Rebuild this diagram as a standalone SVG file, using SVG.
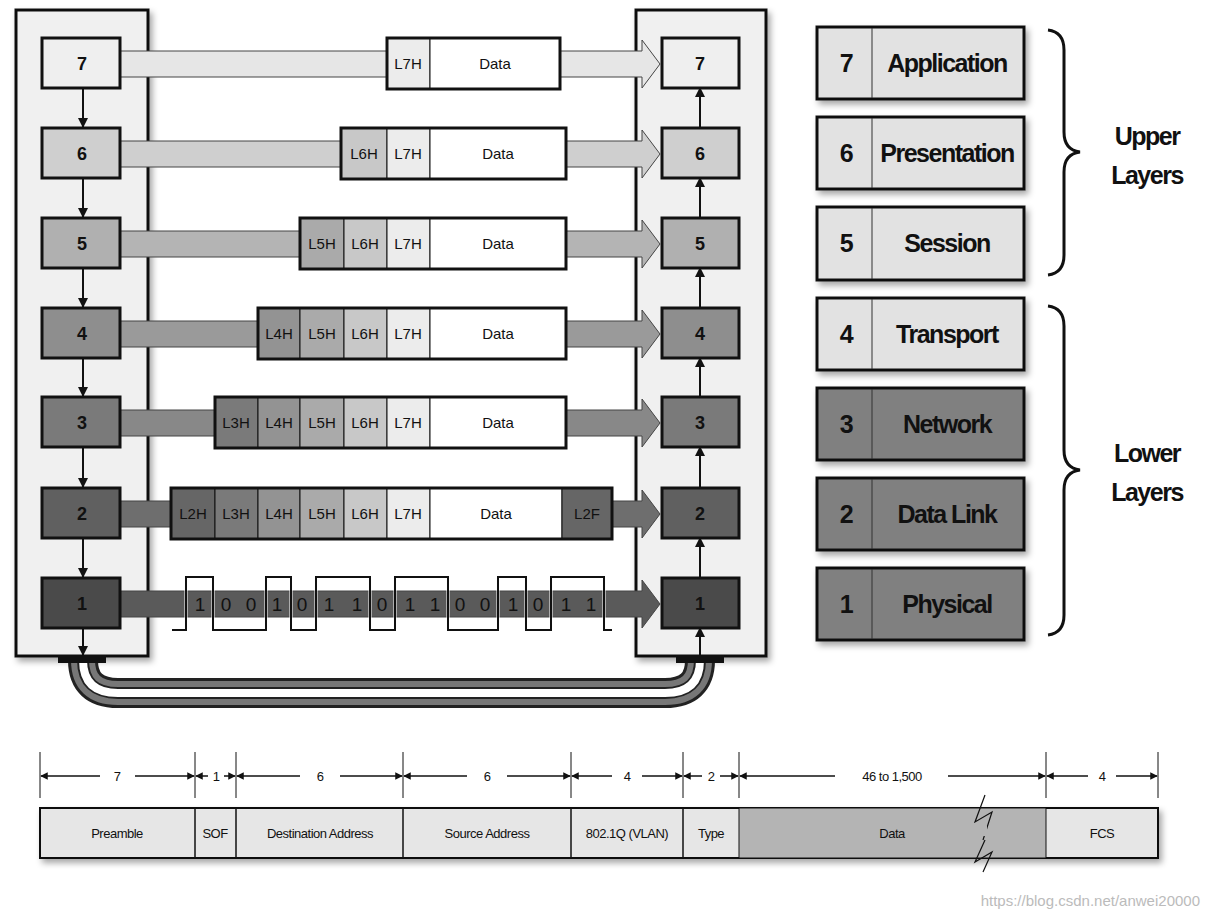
<svg xmlns="http://www.w3.org/2000/svg" width="1210" height="916" viewBox="0 0 1210 916">
<defs>
<style>
.t{font-family:"Liberation Sans",Arial,sans-serif;fill:#111}
.b{font-weight:bold;font-size:18px;text-anchor:middle}
.h{font-size:15px;text-anchor:middle}
.lg{font-weight:bold;font-size:25px;letter-spacing:-1.5px}
.f{font-size:13px;text-anchor:middle;letter-spacing:-0.5px}
.st{stroke:#111;stroke-width:3}
.box{stroke:#111;stroke-width:3}
</style>
<marker id="ad" viewBox="0 0 10 10" refX="9" refY="5" markerWidth="5" markerHeight="6" orient="auto"><path d="M0,0 L10,5 L0,10z" fill="#111"/></marker>
<filter id="sh" x="-5%" y="-5%" width="115%" height="130%"><feDropShadow dx="3" dy="4" stdDeviation="3" flood-color="#000" flood-opacity="0.35"/></filter>
</defs>
<rect width="1210" height="916" fill="#fff"/>
<!-- stacks -->
<g id="left-stack"><rect x="16" y="10" width="132" height="646" fill="#f0f0f0" class="st" filter="url(#sh)"/></g>
<g id="right-stack"><rect x="636" y="10" width="130" height="646" fill="#f0f0f0" class="st" filter="url(#sh)"/></g>
<!-- cable -->
<g id="cable">
<path d="M83 660 Q83 693 118 693 L665 693 Q700 693 700 660" fill="none" stroke="#222" stroke-width="30"/>
<path d="M83 660 Q83 693 118 693 L665 693 Q700 693 700 660" fill="none" stroke="#777" stroke-width="24"/>
<path d="M83 660 Q83 693 118 693 L665 693 Q700 693 700 660" fill="none" stroke="#222" stroke-width="12"/>
<path d="M83 660 Q83 693 118 693 L665 693 Q700 693 700 660" fill="none" stroke="#fff" stroke-width="8"/>
<rect x="58" y="655" width="48" height="8" fill="#111"/>
<rect x="676" y="655" width="48" height="8" fill="#111"/>
</g>
<!-- band arrows -->
<g id="connectors">
<g stroke="#444" stroke-width="1">
<path d="M120 51 H642 V40 L660 64 L642 88 V77 H120z" fill="#e6e6e6"/>
<path d="M120 141 H642 V130 L660 154 L642 178 V167 H120z" fill="#cfcfcf"/>
<path d="M120 231 H642 V220 L660 244 L642 268 V257 H120z" fill="#b4b4b4"/>
<path d="M120 321 H642 V310 L660 334 L642 358 V347 H120z" fill="#9a9a9a"/>
<path d="M120 410 H642 V399 L660 423 L642 447 V436 H120z" fill="#888"/>
<path d="M120 501 H642 V490 L660 514 L642 538 V527 H120z" fill="#6e6e6e"/>
<path d="M120 591 H642 V580 L660 604 L642 628 V617 H120z" fill="#5a5a5a"/>
</g>
<g stroke="#111" stroke-width="2" marker-end="url(#ad)">
<line x1="83" y1="88" x2="83" y2="127"/><line x1="83" y1="178" x2="83" y2="217"/><line x1="83" y1="268" x2="83" y2="307"/><line x1="83" y1="358" x2="83" y2="396"/><line x1="83" y1="447" x2="83" y2="487"/><line x1="83" y1="538" x2="83" y2="577"/><line x1="83" y1="628" x2="83" y2="655"/>
<line x1="700" y1="127" x2="700" y2="88"/><line x1="700" y1="217" x2="700" y2="178"/><line x1="700" y1="307" x2="700" y2="268"/><line x1="700" y1="396" x2="700" y2="358"/><line x1="700" y1="487" x2="700" y2="447"/><line x1="700" y1="577" x2="700" y2="538"/><line x1="700" y1="655" x2="700" y2="628"/>
</g>
</g>
<!-- layer boxes -->
<g id="layers-left" class="t">
<g id="L7"><rect x="42" y="38" width="78" height="50" fill="#efefef" class="box"/><text x="82" y="70" class="t b">7</text></g>
<g id="L6"><rect x="42" y="128" width="78" height="50" fill="#cfcfcf" class="box"/><text x="82" y="160" class="t b">6</text></g>
<g id="L5"><rect x="42" y="218" width="78" height="50" fill="#b0b0b0" class="box"/><text x="82" y="250" class="t b">5</text></g>
<g id="L4"><rect x="42" y="308" width="78" height="50" fill="#8e8e8e" class="box"/><text x="82" y="340" class="t b">4</text></g>
<g id="L3"><rect x="42" y="397" width="78" height="50" fill="#7a7a7a" class="box"/><text x="82" y="429" class="t b">3</text></g>
<g id="L2"><rect x="42" y="488" width="78" height="50" fill="#606060" class="box"/><text x="82" y="520" class="t b">2</text></g>
<g id="L1"><rect x="42" y="578" width="78" height="50" fill="#4a4a4a" class="box"/><text x="82" y="610" class="t b">1</text></g>
</g>
<g id="layers-right">
<g id="R7"><rect x="662" y="38" width="77" height="50" fill="#efefef" class="box"/><text x="700" y="70" class="t b">7</text></g>
<g id="R6"><rect x="662" y="128" width="77" height="50" fill="#cfcfcf" class="box"/><text x="700" y="160" class="t b">6</text></g>
<g id="R5"><rect x="662" y="218" width="77" height="50" fill="#b0b0b0" class="box"/><text x="700" y="250" class="t b">5</text></g>
<g id="R4"><rect x="662" y="308" width="77" height="50" fill="#8e8e8e" class="box"/><text x="700" y="340" class="t b">4</text></g>
<g id="R3"><rect x="662" y="397" width="77" height="50" fill="#7a7a7a" class="box"/><text x="700" y="429" class="t b">3</text></g>
<g id="R2"><rect x="662" y="488" width="77" height="50" fill="#606060" class="box"/><text x="700" y="520" class="t b">2</text></g>
<g id="R1"><rect x="662" y="578" width="77" height="50" fill="#4a4a4a" class="box"/><text x="700" y="610" class="t b">1</text></g>
</g>
<!-- packets -->
<g id="packets" stroke="#111" stroke-width="1">
<g id="p7"><rect x="387" y="38" width="43" height="51" fill="#ececec"/><rect x="430" y="38" width="130" height="51" fill="#fff"/><rect x="387" y="38" width="173" height="51" fill="none" stroke-width="3"/></g>
<g id="p6"><rect x="341" y="128" width="46" height="51" fill="#c8c8c8"/><rect x="387" y="128" width="43" height="51" fill="#ececec"/><rect x="430" y="128" width="136" height="51" fill="#fff"/><rect x="341" y="128" width="225" height="51" fill="none" stroke-width="3"/></g>
<g id="p5"><rect x="300" y="218" width="44" height="51" fill="#aaa"/><rect x="344" y="218" width="43" height="51" fill="#c8c8c8"/><rect x="387" y="218" width="43" height="51" fill="#ececec"/><rect x="430" y="218" width="136" height="51" fill="#fff"/><rect x="300" y="218" width="266" height="51" fill="none" stroke-width="3"/></g>
<g id="p4"><rect x="258" y="308" width="42" height="51" fill="#939393"/><rect x="300" y="308" width="44" height="51" fill="#aaa"/><rect x="344" y="308" width="43" height="51" fill="#c8c8c8"/><rect x="387" y="308" width="43" height="51" fill="#ececec"/><rect x="430" y="308" width="136" height="51" fill="#fff"/><rect x="258" y="308" width="308" height="51" fill="none" stroke-width="3"/></g>
<g id="p3"><rect x="215" y="397" width="43" height="51" fill="#7a7a7a"/><rect x="258" y="397" width="42" height="51" fill="#939393"/><rect x="300" y="397" width="44" height="51" fill="#aaa"/><rect x="344" y="397" width="43" height="51" fill="#c8c8c8"/><rect x="387" y="397" width="43" height="51" fill="#ececec"/><rect x="430" y="397" width="136" height="51" fill="#fff"/><rect x="215" y="397" width="351" height="51" fill="none" stroke-width="3"/></g>
<g id="p2"><rect x="171" y="488" width="44" height="51" fill="#666"/><rect x="215" y="488" width="43" height="51" fill="#7a7a7a"/><rect x="258" y="488" width="42" height="51" fill="#939393"/><rect x="300" y="488" width="44" height="51" fill="#aaa"/><rect x="344" y="488" width="43" height="51" fill="#c8c8c8"/><rect x="387" y="488" width="43" height="51" fill="#ececec"/><rect x="430" y="488" width="132" height="51" fill="#fff"/><rect x="562" y="488" width="50" height="51" fill="#666"/><rect x="171" y="488" width="441" height="51" fill="none" stroke-width="3"/></g>
</g>
<g id="packet-labels" class="t h">
<text x="408" y="69">L7H</text><text x="495" y="69">Data</text>
<text x="364" y="159">L6H</text><text x="408" y="159">L7H</text><text x="498" y="159">Data</text>
<text x="322" y="249">L5H</text><text x="365" y="249">L6H</text><text x="408" y="249">L7H</text><text x="498" y="249">Data</text>
<text x="279" y="339">L4H</text><text x="322" y="339">L5H</text><text x="365" y="339">L6H</text><text x="408" y="339">L7H</text><text x="498" y="339">Data</text>
<text x="236" y="428">L3H</text><text x="279" y="428">L4H</text><text x="322" y="428">L5H</text><text x="365" y="428">L6H</text><text x="408" y="428">L7H</text><text x="498" y="428">Data</text>
<text x="193" y="519">L2H</text><text x="236" y="519">L3H</text><text x="279" y="519">L4H</text><text x="322" y="519">L5H</text><text x="365" y="519">L6H</text><text x="408" y="519">L7H</text><text x="496" y="519">Data</text><text x="587" y="519">L2F</text>
</g>
<!-- physical bits -->
<g id="bits">
<path d="M172 630 H186 V577 H213 V630 H266 V577 H291 V630 H316 V577 H370 V630 H395 V577 H448 V630 H498 V577 H526 V630 H551 V577 H604 V630 H612" fill="none" stroke="#fff" stroke-width="3"/>
<path d="M172 630 H186 V577 H213 V630 H266 V577 H291 V630 H316 V577 H370 V630 H395 V577 H448 V630 H498 V577 H526 V630 H551 V577 H604 V630 H612" fill="none" stroke="#111" stroke-width="2"/>
<g class="t" font-size="19" text-anchor="middle" fill="#222">
<text x="200" y="611">1</text><text x="226" y="611">0</text><text x="251" y="611">0</text><text x="277" y="611">1</text><text x="302" y="611">0</text><text x="329" y="611">1</text><text x="357" y="611">1</text><text x="382" y="611">0</text><text x="410" y="611">1</text><text x="435" y="611">1</text><text x="460" y="611">0</text><text x="485" y="611">0</text><text x="513" y="611">1</text><text x="538" y="611">0</text><text x="566" y="611">1</text><text x="591" y="611">1</text>
</g>
</g>
<!-- legend -->
<g id="legend">
<g filter="url(#sh)" class="box">
<rect x="817" y="27" width="207" height="72" fill="#e2e2e2"/>
<rect x="817" y="117" width="207" height="72" fill="#e2e2e2"/>
<rect x="817" y="207" width="207" height="73" fill="#e2e2e2"/>
<rect x="817" y="298" width="207" height="72" fill="#e2e2e2"/>
<rect x="817" y="388" width="207" height="72" fill="#808080"/>
<rect x="817" y="478" width="207" height="72" fill="#808080"/>
<rect x="817" y="568" width="207" height="72" fill="#808080"/>
</g>
<g stroke="#333" stroke-width="1">
<line x1="872" y1="28" x2="872" y2="98"/><line x1="872" y1="118" x2="872" y2="188"/><line x1="872" y1="208" x2="872" y2="279"/><line x1="872" y1="299" x2="872" y2="369"/><line x1="872" y1="389" x2="872" y2="459"/><line x1="872" y1="479" x2="872" y2="549"/><line x1="872" y1="569" x2="872" y2="639"/>
</g>
<g class="t lg" text-anchor="middle">
<text x="846" y="72">7</text><text x="947" y="72">Application</text>
<text x="846" y="162">6</text><text x="947" y="162">Presentation</text>
<text x="846" y="252">5</text><text x="947" y="252">Session</text>
<text x="846" y="343">4</text><text x="947" y="343">Transport</text>
<text x="846" y="433">3</text><text x="947" y="433">Network</text>
<text x="846" y="523">2</text><text x="947" y="523">Data Link</text>
<text x="846" y="613">1</text><text x="947" y="613">Physical</text>
</g>
<g fill="none" stroke="#111" stroke-width="3">
<path d="M1048 30 Q1064 32 1064 50 V132 Q1064 150 1080 152 Q1064 154 1064 172 V255 Q1064 273 1048 275"/>
<path d="M1048 306 Q1064 308 1064 326 V450 Q1064 468 1080 470 Q1064 472 1064 490 V615 Q1064 633 1048 635"/>
</g>
<g class="t lg" text-anchor="middle">
<text x="1147" y="145">Upper</text><text x="1147" y="184">Layers</text>
<text x="1147" y="462">Lower</text><text x="1147" y="501">Layers</text>
</g>
</g>
<!-- frame -->
<g id="frame">
<rect x="40" y="808" width="1118" height="50" fill="#e6e6e6" stroke="#111" stroke-width="2" filter="url(#sh)"/>
<rect x="739" y="808" width="307" height="50" fill="#b4b4b4" stroke="#111" stroke-width="1"/>
<g stroke="#111" stroke-width="1.5">
<line x1="195" y1="808" x2="195" y2="858"/><line x1="236" y1="808" x2="236" y2="858"/><line x1="403" y1="808" x2="403" y2="858"/><line x1="571" y1="808" x2="571" y2="858"/><line x1="683" y1="808" x2="683" y2="858"/>
</g>
<path d="M985 795 L975 822 L992 812 L983 840" fill="none" stroke="#111" stroke-width="1.2"/>
<path d="M985 840 L975 862 L992 852 L983 872" fill="none" stroke="#111" stroke-width="1.2"/>
<rect x="977" y="826" width="10" height="10" fill="#b4b4b4"/>
<g class="t f">
<text x="117" y="838">Preamble</text><text x="215" y="838">SOF</text><text x="320" y="838">Destination Address</text><text x="487" y="838">Source Address</text><text x="627" y="838">802.1Q (VLAN)</text><text x="711" y="838">Type</text><text x="892" y="838">Data</text><text x="1102" y="838">FCS</text>
</g>
</g>
<g id="dimensions">
<g stroke="#111" stroke-width="1">
<line x1="40" y1="752" x2="40" y2="798"/><line x1="195" y1="752" x2="195" y2="798"/><line x1="236" y1="752" x2="236" y2="798"/><line x1="403" y1="752" x2="403" y2="798"/><line x1="571" y1="752" x2="571" y2="798"/><line x1="683" y1="752" x2="683" y2="798"/><line x1="739" y1="752" x2="739" y2="798"/><line x1="1046" y1="752" x2="1046" y2="798"/><line x1="1158" y1="752" x2="1158" y2="798"/>
</g>
<g stroke="#111" stroke-width="1.5" marker-end="url(#ad)">
<line x1="100" y1="776" x2="41" y2="776"/><line x1="135" y1="776" x2="194" y2="776"/>
<line x1="208" y1="776" x2="196" y2="776"/><line x1="224" y1="776" x2="235" y2="776"/>
<line x1="300" y1="776" x2="237" y2="776"/><line x1="340" y1="776" x2="402" y2="776"/>
<line x1="467" y1="776" x2="404" y2="776"/><line x1="507" y1="776" x2="570" y2="776"/>
<line x1="612" y1="776" x2="572" y2="776"/><line x1="642" y1="776" x2="682" y2="776"/>
<line x1="702" y1="776" x2="684" y2="776"/><line x1="720" y1="776" x2="738" y2="776"/>
<line x1="835" y1="776" x2="740" y2="776"/><line x1="948" y1="776" x2="1045" y2="776"/>
<line x1="1088" y1="776" x2="1047" y2="776"/><line x1="1116" y1="776" x2="1157" y2="776"/>
</g>
<g class="t f">
<text x="117" y="781">7</text><text x="216" y="781">1</text><text x="320" y="781">6</text><text x="487" y="781">6</text><text x="627" y="781">4</text><text x="711" y="781">2</text><text x="892" y="781">46 to 1,500</text><text x="1102" y="781">4</text>
</g>
</g>
<text x="1200" y="906" font-family="Liberation Sans,Arial,sans-serif" font-size="15" fill="#bbb" text-anchor="end">https://blog.csdn.net/anwei20000</text>
</svg>
